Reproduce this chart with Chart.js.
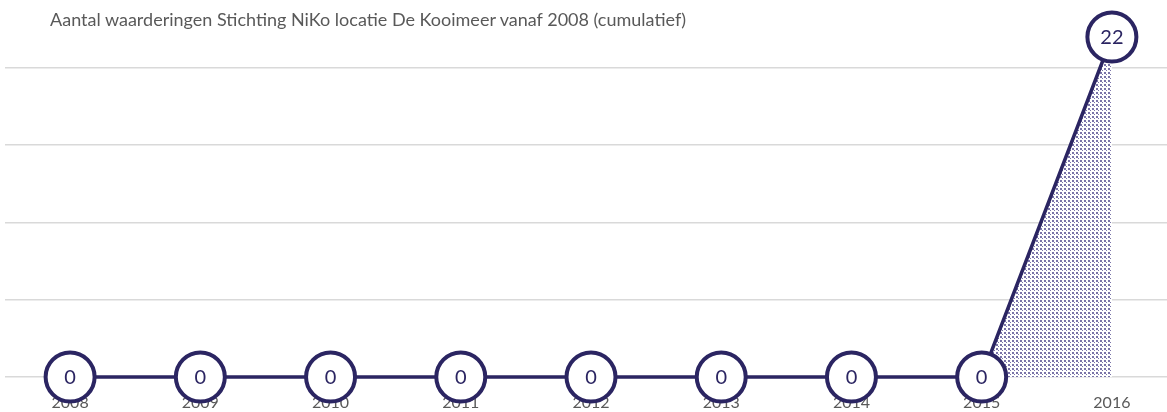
<!DOCTYPE html>
<html>
<head>
<meta charset="utf-8">
<script src="https://cdn.jsdelivr.net/npm/chart.js@4"></script>
<style>
  html, body { margin: 0; padding: 0; background: #fff; overflow: hidden; }
  #wrap { position: relative; width: 1167px; height: 412px; overflow: hidden; }
  #title { position: absolute; left: 50px; top: 8px; font: 18px Lato, sans-serif; color: #595959; white-space: nowrap; }
  canvas { position: absolute; left: 0; top: 0; }
</style>
</head>
<body>
<div id="wrap">
  <canvas id="chart" width="1180" height="412"></canvas>
  <div id="title">Aantal waarderingen Stichting NiKo locatie De Kooimeer vanaf 2008 (cumulatief)</div>
</div>
<script>
const years = ['2008', '2009', '2010', '2011', '2012', '2013', '2014', '2015', '2016'];
const waarderingen = [0, 0, 0, 0, 0, 0, 0, 0, 22];

const ink = '#2b2562';

// dotted fill like the original
function dots() {
    const c = document.createElement('canvas');
    c.width = 4; c.height = 4;
    const g = c.getContext('2d');
    g.fillStyle = '#ffffff';
    g.fillRect(0, 0, 4, 4);
    g.fillStyle = '#7a74a8';
    g.fillRect(0, 0, 2, 2);
    g.fillRect(2, 2, 1, 1);
    return g.createPattern(c, 'repeat');
}

const labelsPlugin = {
    id: 'circleLabels',
    afterDatasetsDraw(chart) {
        const ctx = chart.ctx;
        const meta = chart.getDatasetMeta(0);
        ctx.save();
        ctx.font = '20px Lato, sans-serif';
        ctx.fillStyle = ink;
        ctx.textAlign = 'center';
        ctx.textBaseline = 'middle';
        meta.data.forEach((pt, i) => {
            ctx.fillText(String(waarderingen[i]), pt.x, pt.y + 1);
        });
        ctx.restore();
    }
};

const ctx = document.getElementById('chart');
const chart = new Chart(ctx, {
    type: 'line',
    data: {
        labels: years,
        datasets: [
            {
                data: waarderingen,
                borderColor: ink,
                borderWidth: 3.5,
                backgroundColor: dots(),
                fill: 'origin',
                tension: 0,
                pointRadius: 24.5,
                pointBorderWidth: 4,
                pointBackgroundColor: '#ffffff',
                pointBorderColor: ink,
                clip: false
            }
        ]
    },
    options: {
        responsive: false,
        animation: false,
        layout: { autoPadding: false, padding: { left: 5, right: 3, top: 37, bottom: 0 } },
        plugins: {
            legend: { display: false },
            tooltip: { enabled: false }
        },
        scales: {
            x: {
                offset: true,
                grid: { display: false },
                border: { display: false },
                ticks: { color: '#595959', font: { family: 'Lato', size: 16 }, padding: 8, maxRotation: 0, autoSkip: false },
                afterFit(scale) { scale.height = 35; }
            },
            y: {
                min: 0,
                max: 22,
                ticks: { display: false, stepSize: 5 },
                grid: {
                    color: c => (c.tick && c.tick.value % 5 === 0) ? '#d9d9d9' : 'rgba(0,0,0,0)',
                    lineWidth: 1.5,
                    drawTicks: false
                },
                border: { display: false },
                afterFit(scale) { scale.width = 0; }
            }
        }
    },
    plugins: [labelsPlugin]
});
</script>
</body>
</html>
